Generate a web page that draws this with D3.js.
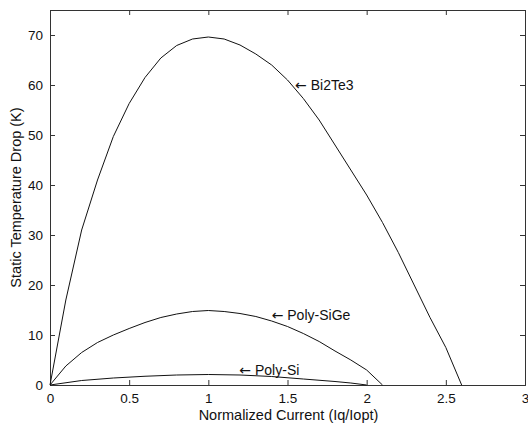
<!DOCTYPE html>
<html>
<head>
<meta charset="utf-8">
<script src="https://cdn.jsdelivr.net/npm/d3@7"></script>
<style>
  body { margin: 0; background: #fff; }
  text { font-family: "Liberation Sans", Arial, sans-serif; fill: #111; }
</style>
</head>
<body>
<div class="vis-chart"></div>
<script>
// data (normalized current vs static temperature drop)
const xBi2Te3 = [0, 0.1, 0.2, 0.3, 0.4, 0.5, 0.6, 0.7, 0.8, 0.9, 1.0, 1.1, 1.2, 1.3, 1.4, 1.5, 1.6, 1.7, 1.8, 1.9, 2.0, 2.1, 2.2, 2.3, 2.4, 2.5, 2.6];
const yBi2Te3 = [0, 17, 31, 41, 49.7, 56.3, 61.5, 65.4, 67.9, 69.2, 69.6, 69.2, 68, 66.2, 64, 61, 57.3, 53, 48, 43, 38, 32.5, 26.5, 20, 13.5, 7.5, 0];
const xSiGe = [0, 0.1, 0.2, 0.3, 0.4, 0.5, 0.6, 0.7, 0.8, 0.9, 1.0, 1.1, 1.2, 1.3, 1.4, 1.5, 1.6, 1.7, 1.8, 1.9, 2.0, 2.1];
const ySiGe = [0, 3.8, 6.5, 8.5, 10, 11.3, 12.5, 13.5, 14.2, 14.7, 14.9, 14.7, 14.3, 13.7, 12.8, 11.7, 10.3, 8.7, 6.8, 5, 3, 0];
const xSi = [0, 0.2, 0.4, 0.6, 0.8, 1.0, 1.2, 1.4, 1.6, 1.8, 1.9, 2.0];
const ySi = [0, 0.9, 1.4, 1.75, 2.0, 2.1, 2.0, 1.7, 1.2, 0.7, 0.4, 0];
const seriesNames = ["Bi2Te3", "Poly-SiGe", "Poly-Si"];
const labelX = [1.548, 1.4, 1.196];
const labelY = [60, 14, 3];
const xTicks = [0, 0.5, 1, 1.5, 2, 2.5, 3];
const yTicks = [0, 10, 20, 30, 40, 50, 60, 70];

const margin = {top: 10, right: 3, bottom: 43, left: 50};
const W = 528, H = 428;
const width = W - margin.left - margin.right;
const height = H - margin.top - margin.bottom;

const svg = d3.select('.vis-chart').append('svg')
    .attr('width', W)
    .attr('height', H)
    .append('g')
    .attr('transform', 'translate(' + margin.left + ',' + margin.top + ')');

const x = d3.scaleLinear().domain([0, 3]).range([0, width]);
const y = d3.scaleLinear().domain([0, 75]).range([height, 0]);

const series = [
  xBi2Te3.map((v, i) => [v, yBi2Te3[i]]),
  xSiGe.map((v, i) => [v, ySiGe[i]]),
  xSi.map((v, i) => [v, ySi[i]])
];

// axes box with inward ticks (matlab style)
const fmt = d3.format('');
svg.append('g').attr('class', 'ax')
    .attr('transform', 'translate(0,' + height + ')')
    .call(d3.axisBottom(x).tickValues(xTicks).tickSize(-5).tickPadding(8).tickFormat(fmt));
svg.append('g').attr('class', 'ax')
    .call(d3.axisTop(x).tickValues(xTicks).tickSize(-5).tickFormat(''));
svg.append('g').attr('class', 'ax')
    .call(d3.axisLeft(y).tickValues(yTicks).tickSize(-5).tickPadding(7));
svg.append('g').attr('class', 'ax')
    .attr('transform', 'translate(' + width + ',0)')
    .call(d3.axisRight(y).tickValues(yTicks).tickSize(-5).tickFormat(''));

svg.selectAll('.ax path, .ax line').attr('stroke', '#333');
svg.selectAll('.ax text').attr('font-size', 13.5).attr('fill', '#111');

const line = d3.line().x(d => x(d[0])).y(d => y(d[1]));
svg.selectAll('.curve')
    .data(series)
    .enter().append('path')
    .attr('class', 'curve')
    .attr('fill', 'none')
    .attr('stroke', '#111')
    .attr('stroke-width', 1)
    .attr('d', line);

const lbl = svg.selectAll('.lbl')
    .data(seriesNames)
    .enter().append('text')
    .attr('class', 'lbl')
    .attr('x', (d, i) => x(labelX[i]))
    .attr('y', (d, i) => y(labelY[i]))
    .attr('dy', '0.35em')
    .attr('font-size', 14);
lbl.append('tspan').attr('font-family', '"DejaVu Sans"').text('\u2190');
lbl.append('tspan').text(d => ' ' + d);

svg.append('text')
    .attr('x', width / 2 + 1)
    .attr('y', height + 35)
    .attr('text-anchor', 'middle')
    .attr('font-size', 14.5)
    .text('Normalized Current (Iq/Iopt)');

svg.append('text')
    .attr('transform', 'rotate(-90)')
    .attr('x', -height / 2)
    .attr('y', -29)
    .attr('text-anchor', 'middle')
    .attr('font-size', 14.5)
    .text('Static Temperature Drop (K)');
</script>
</body>
</html>
